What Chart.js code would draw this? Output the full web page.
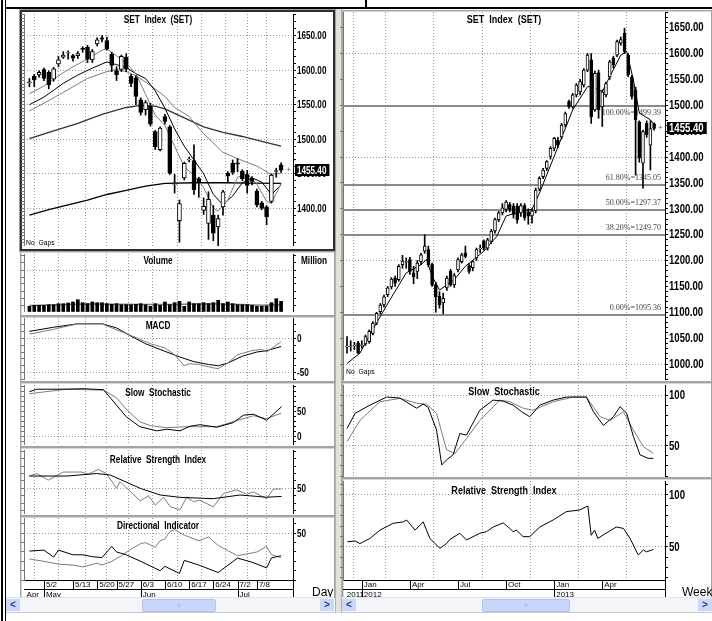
<!DOCTYPE html>
<html><head><meta charset="utf-8">
<script src="https://cdn.jsdelivr.net/npm/chart.js@4.4.0/dist/chart.umd.min.js"></script>
<style>
html,body{margin:0;padding:0;background:#fff;}
#wrap{position:relative;width:712px;height:621px;overflow:hidden;background:#fff;font-family:"Liberation Sans",Arial,sans-serif;}
canvas{position:absolute;}
.frame{position:absolute;box-sizing:border-box;border:1px solid #a4a4a4;box-shadow:inset 1px 1px 0 #d6d6d6;background:#fff;}
.sel{position:absolute;box-sizing:border-box;border:2px solid #2e2e2e;outline:1px solid #a0a0a0;background:#fff;}
.ttl{position:absolute;font:bold 11px "Liberation Sans",Arial;white-space:pre;color:#000;}
.tl{transform:translateX(-50%) scaleX(0.75);}
.tr{transform:translateX(-50%) scaleX(0.82);}
.txt{position:absolute;white-space:pre;color:#000;}
.blk{position:absolute;background:#000;}
.sb{position:absolute;height:14px;background:#f3f5fb;border-top:1px solid #dfe3ee;border-bottom:1px solid #c8c8c8;}
.sb .ar{position:absolute;top:1px;width:14px;height:12px;background:#c9d8fb;font:bold 10px Arial;color:#2b3f7a;text-align:center;line-height:12px;}
.sb .th{position:absolute;top:1px;height:11px;background:#c8d6fa;border:1px solid #b3c4ee;border-radius:2px;font:7px Arial;color:#8fa3d6;text-align:center;line-height:11px;}
</style></head>
<body><div id="wrap">
<div class="blk" style="left:1px;top:0;width:2px;height:621px"></div>
<div class="blk" style="left:5px;top:0;width:1px;height:621px"></div>
<div class="blk" style="left:5px;top:7px;width:707px;height:2px"></div>
<div class="blk" style="left:365px;top:0;width:2px;height:8px"></div>
<div style="position:absolute;left:335px;top:9px;width:7px;height:604px;background:#e4e1da;border-left:1px solid #b0b0b0;border-right:1px solid #b0b0b0;box-sizing:border-box"></div>

<div class="sel" style="left:20px;top:10px;width:315px;height:241px"></div>
<div class="frame" style="left:20px;top:251px;width:315px;height:65px"></div>
<div class="frame" style="left:20px;top:316px;width:315px;height:66px"></div>
<div class="frame" style="left:20px;top:382px;width:315px;height:65px"></div>
<div class="frame" style="left:20px;top:447px;width:315px;height:69px"></div>
<div class="frame" style="left:20px;top:516px;width:315px;height:82px"></div>
<div class="frame" style="left:342px;top:10px;width:370px;height:372px"></div>
<div class="frame" style="left:342px;top:382px;width:370px;height:96px"></div>
<div class="frame" style="left:342px;top:478px;width:370px;height:120px"></div>

<canvas id="lp" width="312" height="232" style="left:21px;top:14px"></canvas>
<canvas id="lv" width="312" height="58" style="left:21px;top:254px"></canvas>
<canvas id="lm" width="312" height="62" style="left:21px;top:318px"></canvas>
<canvas id="ls" width="312" height="60" style="left:21px;top:385px"></canvas>
<canvas id="lr" width="312" height="64" style="left:21px;top:450px"></canvas>
<canvas id="ld" width="312" height="79" style="left:21px;top:518px"></canvas>
<canvas id="rp" width="372" height="368" style="left:340px;top:12px"></canvas>
<canvas id="rs" width="372" height="92" style="left:340px;top:385px"></canvas>
<canvas id="rr" width="372" height="116" style="left:340px;top:481px"></canvas>

<div class="ttl tl" style="left:158px;top:13px">SET  Index  (SET)</div>
<div class="ttl tl" style="left:158px;top:254px">Volume</div>
<div class="ttl tl" style="left:158px;top:319px">MACD</div>
<div class="ttl tl" style="left:158px;top:386px">Slow  Stochastic</div>
<div class="ttl tl" style="left:158px;top:453px">Relative  Strength  Index</div>
<div class="ttl tl" style="left:158px;top:519px">Directional  Indicator</div>
<div class="ttl tr" style="left:504px;top:13px">SET  Index  (SET)</div>
<div class="ttl tr" style="left:504px;top:385px">Slow  Stochastic</div>
<div class="ttl tr" style="left:504px;top:484px">Relative  Strength  Index</div>
<div class="ttl" style="left:301px;top:254px;transform:scaleX(0.75);transform-origin:0 0">Million</div>
<div class="txt" style="left:26px;top:238px;font:8px 'Liberation Sans',Arial;transform:scaleX(0.85);transform-origin:0 0">No  Gaps</div>
<div class="txt" style="left:346px;top:367px;font:8px 'Liberation Sans',Arial;transform:scaleX(0.85);transform-origin:0 0">No  Gaps</div>
<div class="txt" style="left:312px;top:585px;font:12px 'Liberation Sans',Arial">Day</div>
<div class="txt" style="left:682px;top:585px;font:12px 'Liberation Sans',Arial">Week</div>

<div class="sb" style="left:6px;top:597px;width:328px"><div class="ar" style="left:0">&lt;</div><div class="th" style="left:136px;width:72px">=</div><div class="ar" style="right:0">&gt;</div></div>
<div class="sb" style="left:342px;top:597px;width:370px"><div class="ar" style="left:0">&lt;</div><div class="th" style="left:140px;width:86px">=</div><div class="ar" style="right:0">&gt;</div></div>
</div>
<script>
// ---- daily SET (left) ----
var L_OPEN  = [1582,1591,1593,1601,1597,1587,1609,1619,1624.5,1621,1621,1632,1633,1615,1638,1647,1643,1623,1599,1601,1619,1591,1589,1557,1543,1548,1511,1485,1533,1518,1434.5,1382,1444,1470,1469,1443,1397,1378,1390,1373,1402,1451,1465,1466,1454,1449,1443,1425,1408,1402,1410,1453.5,1463];
var L_HIGH  = [1588,1594,1599,1603,1599,1604,1620,1627,1628,1623,1627,1634,1636,1630,1647,1650,1648,1626,1605,1622,1624,1594,1592,1560,1556,1552,1513,1518,1536,1520,1449,1412,1467,1474,1492,1445,1415,1424,1404,1390,1426,1453,1470,1472,1456,1455,1446,1428,1410,1404,1450,1458,1466];
var L_LOW   = [1576,1576,1590,1585,1573,1584,1605,1617,1616,1613,1617,1626,1611,1611,1635,1641,1629,1598,1585,1598,1598,1576,1550,1535,1535,1519,1485,1483,1522,1449,1422,1351,1441,1467,1420,1416,1391,1355,1353,1338,1390,1438,1449,1453,1440,1422,1434,1402,1398,1376,1408,1445,1452];
var L_CLOSE = [1583,1586,1597,1588,1579,1602,1615,1622,1625.5,1617.5,1624,1630,1616,1627,1644,1645,1631,1607,1593,1620,1601.5,1581,1562,1539,1553,1522,1489,1516,1526,1451,1435.5,1407,1465,1471,1427,1438,1403,1413,1364,1385,1424,1447,1452,1464,1443,1433,1439,1405,1400,1388,1448,1454.5,1455.4];
var L_VOL   = [5.7,6.7,6.7,6.7,7.3,7.3,8.3,8.3,9,10,12.3,9.3,8.3,10,9.3,9.3,8.3,7.7,8.3,7.3,7.3,7.3,7.7,8.3,7.3,5.7,8.3,6.7,10,7.3,9.3,10.7,5.7,10,8.3,8.3,9.3,8.3,9.3,11.7,8.3,10,8.3,7.3,7.3,7.3,6.7,5.7,5.7,6,9.3,13.3,10.7];
var L_VOLMA_X = [0,6,12,18,24,30,36,42,48,52];
var L_VOLMA   = [6.5,7.2,8,7.8,7.4,7.6,8.3,7.8,6.8,7.4];

var MA5_X  = [0,3,6,9,12,15,16,18,20,22,24,26,28,30,32,34,36,38,39,41,43,45,47,49,50,52];
var MA5    = [1566,1577,1592,1605,1616,1629,1631,1621,1610,1595,1565,1535,1520,1490,1460,1448,1430,1400,1396,1412,1445,1450,1435,1410,1407,1436];
var MA10_X = [0,3,7,10,13,16,18,20,22,24,26,28,30,32,34,36,38,40,42,44,46,48,50,52];
var MA10   = [1550,1561,1581,1593,1603,1612,1608,1604,1595,1588,1570,1545,1515,1490,1470,1450,1420,1405,1418,1437,1444,1438,1420,1434];
var MA25_X = [0,4,8,12,16,18,20,22,25,28,30,33,36,40,43,47,50,52];
var MA25   = [1541,1556,1572,1588,1598,1601,1598,1592,1578,1562,1546,1533,1508,1481,1472,1461,1449,1451];
var MA75_X = [0,5,10,15,20,23,26,28,32,36,40,44,48,52];
var MA75   = [1501,1512,1523,1536,1546,1549,1548,1544,1531,1518,1510,1504,1497,1490];
var MA200_X = [0,4,8,12,16,20,24,28,34,40,46,52];
var MA200   = [1390,1398,1405,1412,1420,1426,1432,1436,1437,1437,1436.5,1436];

var MACD_X   = [0,5,10,15,17,21,25,28,30,32,33,35,38,39,41,43,46,48,49,52];
var MACD     = [6,13,21,21,15,4,-8,-14,-24,-40,-37,-38,-43,-44,-36,-24,-18,-16,-20,-5];
var MACDS_X  = [0,5,10,15,18,21,24,28,31,34,37,39,41,44,47,49,52];
var MACDS    = [10,16,21,21,15,3,-8,-19,-27,-34,-38,-40,-36,-26,-20,-18,-12];

var LSTK_X = [0,1.5,7.7,11,15.3,18,20,22.8,26.3,28.4,31.1,33.2,35.2,38.7,42.1,44.2,46.3,49,52.1];
var LSTK   = [90,95,95,96,94,63,40,20,11.7,15,11.7,21,24,19,28,43,45,33,60];
var LSTD_X = [0,7.7,15.3,18,20,22.8,25,28.4,32.5,38.7,42.1,46.3,49,52];
var LSTD   = [86,95,93,78,55,30,22,18,20,20,30,42,36,47];

var LRSI_X = [0,1.5,3.9,7,10.8,12.2,14.2,15.9,18,18.7,22.9,24.6,26,27.7,29.1,31.1,32.5,33.9,35.2,38,40.1,42.8,44.9,46.3,49,50.4,52.1];
var LRSI   = [66.6,70,61,72,72,69,75.6,70,50,59,33,40,27,38,25,21,38,32,34,25,43,48,42,45,36,49,49];
var LRSIA_X = [0,7.7,13.9,16.7,22.9,27,31.1,38,43.5,49,52.1];
var LRSIA   = [66.6,66.6,70,68,50,41,37.8,36,41,38,39];

var DI1_X = [0,3,5,6,9,11,13,15,17,18,20,23,27,28,31,32,35,39,43,46,49,50,52];
var DI1   = [31,32,24.5,32,27,27,25,24,36,30,27,20,10,14.6,7,21,16,8,23.5,19,13,23.6,26];
var DI2_X = [0,3,6,9,11,14,15,17,19,21,23,24,26,27,28,29,30,32,35,37,39,43,45,47,49,50,52];
var DI2   = [22.5,20,17,16,14,18,16,20,26,33,39,40,35,42,44,52,54,48,42,46,37,26,28,30,36,27,24];

var L_XT     = [-1,3,9,14,18,23,28,33,38,43,47];
var L_XLAB   = [['','Apr'],['5/2','May'],['5/13',''],['5/20',''],['5/27',''],['6/3','Jun'],['6/10',''],['6/17',''],['6/24',''],['7/2','Jul'],['7/8','']];

// ---- weekly SET (right) ----
var R_OPEN  = [1033,1034,1035,1041,1036,1039,1043,1059,1079,1101,1114,1134,1149,1166,1163,1192,1197,1202,1176,1179,1198,1218,1221,1192,1153,1131,1118,1147,1179,1153,1182,1198,1215,1190,1186,1205,1223,1237,1224,1237,1257,1279,1292,1299,1308,1305,1305,1292,1306,1294,1286,1296,1338,1362,1378,1401,1417,1433,1439,1462,1507,1497,1520,1526,1539,1568,1588,1491,1563,1497,1520,1555,1591,1597,1620,1639,1597,1555,1530,1468,1388,1465,1423,1464];
var R_HIGH  = [1053,1045,1042,1044,1045,1056,1066,1082,1100,1117,1133,1150,1167,1170,1192,1210,1205,1206,1189,1200,1214,1250,1228,1195,1158,1140,1137,1170,1183,1175,1205,1214,1228,1194,1200,1224,1230,1240,1243,1260,1282,1295,1310,1316,1312,1310,1310,1310,1310,1300,1300,1340,1362,1378,1393,1420,1438,1438,1465,1487,1510,1523,1542,1550,1571,1600,1600,1566,1568,1530,1545,1587,1595,1626,1632,1649,1600,1558,1535,1470,1452,1470,1470,1466];
var R_LOW   = [1021,1025,1028,1020,1030,1036,1040,1056,1076,1097,1110,1130,1145,1150,1160,1185,1185,1173,1155,1165,1192,1214,1188,1150,1100,1108,1097,1142,1150,1148,1178,1195,1205,1175,1180,1200,1215,1220,1220,1233,1253,1275,1288,1294,1294,1282,1272,1285,1278,1270,1272,1292,1335,1358,1374,1396,1412,1418,1435,1458,1494,1494,1516,1520,1535,1565,1465,1488,1475,1459,1516,1550,1572,1594,1616,1600,1555,1512,1365,1390,1340,1438,1375,1452];
var R_CLOSE = [1034,1035,1036,1022,1037,1053,1063,1079,1098,1114,1130,1147,1164,1156,1189,1199,1198,1179,1169,1195,1211,1228,1192,1153,1130,1114,1127,1166,1153,1171,1202,1211,1208,1179,1198,1221,1224,1224,1240,1257,1279,1292,1302,1313,1299,1289,1279,1306,1283,1286,1296,1336,1359,1375,1391,1417,1436,1423,1462,1484,1497,1520,1539,1546,1568,1597,1478,1562,1491,1526,1542,1584,1578,1623,1627,1604,1559,1517,1472,1398,1449,1443,1455,1455.4];
var RMA_X = [0,3.5,7,11.6,16,20,21.5,23,25,29,32,37,40.5,43,47,50,52,56.7,61,65,66.5,69,71,74,75.6,77.4,79,82,83];
var RMA   = [1001,1021,1067,1124,1176,1192,1202,1170,1143,1163,1189,1218,1247,1286,1295,1299,1330,1414,1491,1536,1536,1526,1555,1597,1604,1549,1485,1472,1462];

var FIB_LEVELS = [1499.39,1345.05,1297.37,1249.70,1095.36];
var FIB_LABELS = ['100.00%=1499.39','61.80%=1345.05','50.00%=1297.37','38.20%=1249.70','0.00%=1095.36'];

var RSTK_X = [0,2.2,6.2,10.7,14.3,18.8,20.6,21.9,24.2,25.6,26.9,28.7,30.5,32.3,35.9,39.5,42.2,44.9,47.2,49.4,52.1,55.7,59.3,64.7,66.6,69.3,72,73.8,75.6,77.4,79.2,81.4,82.8];
var RSTK   = [67,82,90,98,97,87,91,88,65.5,31,36,41,62,60.5,85,95,94,90,83.5,78.6,90,95,98,98,83.5,70,78.6,88.5,82,59,41,37.5,37.5];
var RSTD_X = [0,3.5,8.9,14.3,18.8,21.5,24.2,26.9,29.2,32.3,35.9,41.3,44,47.6,50.3,55.7,61.1,64.7,68.4,71.1,74.7,77.4,80.1,82.8];
var RSTD   = [54,75,93.4,96.7,92,91,82,46,42.4,57,75,95,93.4,87,85,93.4,98,98,78.6,75,83.5,65.5,49,42.4];
var RRSI_X = [0.1,2.2,3.5,6.2,8.9,12.5,15.2,16.1,18.4,20.6,22.4,25.1,26.9,27.8,30.5,32.3,35.9,37.7,39.5,42.2,44,44.9,45.8,47.6,49.4,52.1,55.7,59.3,62.9,65.1,66,66.9,67.8,70,72.8,74.7,76.5,78.7,80.1,81,82.8];
var RRSI   = [54.8,55.5,53,58,66,72.6,74,75.8,66,74,58,48.4,53,57,63,56.5,63,64.5,69,73,67.7,64.5,66,59.7,59.7,69,75.8,83.9,85.5,89.4,61,66,58,63,69,67.7,58,42,46.8,45,47.4];

var R_XT   = [-0.6,4,17,30,43,56,69];
var R_XLAB = [['','2011'],['Jan','2012'],['Apr',''],['Jul',''],['Oct',''],['Jan','2013'],['Apr','']];

var LAST = 1455.40;

// ---- helpers ----
var GRID = '#9a9a9a';
var GRAY = '#7c7c7c';
var SANS = '"Liberation Sans",Arial,sans-serif';
var XFONT = {family: SANS, size: 8};
var YLAB_L = {font: 'bold 11px ' + SANS, sx: 0.74};
var YLAB_R = {font: 'bold 12px ' + SANS, sx: 0.8};

function pts(xs, ys) { return xs.map(function (x, i) { return {x: x, y: ys[i]}; }); }
function steps(a, b, s) { var r = []; for (var v = a; v <= b; v += s) r.push(v); return r; }

function candles(o, h, l, c, w) {
  var wick = [], body = [], fill = [];
  o.forEach(function (v, i) {
    wick.push({x: i, y: [l[i], h[i]]});
    body.push({x: i, y: [o[i], c[i]]});
    fill.push(c[i] >= o[i] ? '#fff' : '#000');
  });
  return [
    {type: 'bar', data: body, backgroundColor: fill, borderColor: '#000', borderWidth: 1, borderSkipped: false, barThickness: w, grouped: false},
    {type: 'bar', data: wick, backgroundColor: '#000', borderWidth: 0, barThickness: 1, grouped: false}
  ];
}
function line(xs, ys, color, width) {
  return {type: 'line', data: pts(xs, ys), borderColor: color, borderWidth: width || 1, pointRadius: 0, tension: 0, fill: false};
}
function xAx(min, max, ticks, labels, showLabels) {
  return {
    type: 'linear', min: min, max: max, offset: false,
    afterBuildTicks: function (s) { s.ticks = ticks.map(function (v) { return {value: v}; }); },
    afterFit: function (s) { s.height = showLabels ? 17 : 0; },
    ticks: {display: showLabels, autoSkip: false, maxRotation: 0, minRotation: 0, align: 'start', labelOffset: 2, padding: 0, color: '#000', font: XFONT,
      callback: function (v, i) { return labels[i]; }},
    grid: {drawTicks: false, color: function (c) { return c.tick && labels[ticks.indexOf(c.tick.value)][0] === '' ? 'rgba(0,0,0,0)' : GRID; }},
    border: {display: showLabels, color: '#000', dash: [1, 2]}
  };
}
function yAx(min, max, minor, major, grid, fmt, width) {
  return {
    type: 'linear', position: 'right', min: min, max: max,
    afterBuildTicks: function (s) { s.ticks = minor.map(function (v) { return {value: v}; }); },
    afterFit: function (s) { s.width = width; },
    ticks: {display: false, autoSkip: false,
      callback: function (v) { return major.indexOf(v) >= 0 ? fmt(v) : ''; }},
    grid: {tickLength: 3, tickColor: '#000', color: function (c) { return c.tick && grid.indexOf(c.tick.value) >= 0 ? GRID : 'rgba(0,0,0,0)'; }},
    border: {display: true, color: '#000', dash: [1, 2]}
  };
}
function yLeft(min, max, minor) {
  return {
    type: 'linear', axis: 'y', position: 'left', min: min, max: max,
    afterBuildTicks: function (s) { s.ticks = minor.map(function (v) { return {value: v}; }); },
    afterFit: function (s) { s.width = 3; },
    ticks: {display: false},
    grid: {drawOnChartArea: false, tickLength: 3, color: '#777', tickColor: '#777'},
    border: {display: true, color: '#777'}
  };
}

// narrow bold labels of the right-hand value axis, drawn at the scale's own tick positions
var yLab = {
  id: 'yLab',
  afterDraw: function (chart, args, o) {
    if (!o || !o.font) return;
    var y = chart.scales.y, c = chart.ctx;
    c.save();
    c.font = o.font;
    c.fillStyle = '#000';
    c.textBaseline = 'middle';
    y.ticks.forEach(function (t) {
      if (!t.label) return;
      var py = y.getPixelForValue(t.value);
      c.save(); c.translate(y.left + 4, py + 0.5); c.scale(o.sx, 1); c.fillText(t.label, 0, 0); c.restore();
    });
    c.restore();
  }
};
var lastBox = {
  id: 'lastBox',
  afterDraw: function (chart, args, o) {
    if (!o || o.value == null) return;
    var y = chart.scales.y, c = chart.ctx, py = Math.round(y.getPixelForValue(o.value));
    var txt = o.value.toFixed(2);
    c.save();
    c.font = o.font;
    var w = c.measureText(txt).width * o.sx + 5;
    c.fillStyle = '#000';
    c.fillRect(y.left + 2, py - 6, w, 12);
    c.fillStyle = '#fff';
    c.textBaseline = 'middle';
    c.save(); c.translate(y.left + 4, py + 0.5); c.scale(o.sx, 1); c.fillText(txt, 0, 0); c.restore();
    c.fillStyle = '#555';
    c.font = '8px Arial';
    c.fillText('+', y.left - 7, py);
    c.restore();
  }
};
var fib = {
  id: 'fib',
  beforeDatasetsDraw: function (chart, args, o) {
    if (!o || !o.levels) return;
    var y = chart.scales.y, a = chart.chartArea, c = chart.ctx;
    c.save();
    c.strokeStyle = '#8a8a8a';
    c.lineWidth = 2;
    c.font = '8px "Liberation Serif","DejaVu Serif",serif';
    c.textAlign = 'right';
    o.levels.forEach(function (v, i) {
      var py = Math.round(y.getPixelForValue(v));
      c.beginPath(); c.moveTo(a.left, py); c.lineTo(a.right, py); c.stroke();
      c.fillStyle = '#444';
      c.textBaseline = i === 0 ? 'top' : 'bottom';
      c.fillText(o.labels[i], a.right - 4, i === 0 ? py + 3 : py - 3);
    });
    c.restore();
  }
};
var xDeco = {
  id: 'xDeco',
  afterDraw: function (chart, args, o) {
    if (!o || !o.labels) return;
    var xs = chart.scales.x, a = chart.chartArea, c = chart.ctx;
    c.save();
    c.strokeStyle = '#000';
    c.lineWidth = 1;
    c.beginPath();
    c.moveTo(a.left, a.bottom + 9.5); c.lineTo(a.right, a.bottom + 9.5);
    xs.ticks.forEach(function (t, i) {
      var lab = o.labels[i];
      if (!lab[0]) return;
      var px = Math.round(xs.getPixelForValue(t.value)) + 0.5;
      c.moveTo(px, a.bottom); c.lineTo(px, a.bottom + (lab[1] ? 17 : 9));
    });
    var rx = Math.round(a.right) + 0.5;
    c.moveTo(rx, a.bottom); c.lineTo(rx, a.bottom + 17);
    c.stroke();
    c.restore();
  }
};
Chart.register(yLab, lastBox, fib, xDeco);

function make(id, datasets, x, y, yl, lab, plugins) {
  var p = {legend: {display: false}, tooltip: {enabled: false}, yLab: lab};
  for (var k in (plugins || {})) p[k] = plugins[k];
  return new Chart(document.getElementById(id), {
    type: 'bar',
    data: {datasets: datasets},
    options: {responsive: false, animation: false, devicePixelRatio: 1, events: [], layout: {padding: 0},
      plugins: p, scales: {x: x, y: y, yL: yl}}
  });
}
function f2(v) { return v.toFixed(2); }
function f0(v) { return String(v); }

// ---- left pane ----
var LX0 = -1.12, LX1 = 54.46;
var lc = candles(L_OPEN, L_HIGH, L_LOW, L_CLOSE, 4);
make('lp', lc.concat([
  line(MA5_X, MA5, GRAY), line(MA10_X, MA10, '#000'), line(MA25_X, MA25, GRAY),
  line(MA75_X, MA75, '#333', 1.3), line(MA200_X, MA200, '#000', 1.3)
]), xAx(LX0, LX1, L_XT, L_XLAB, false),
  yAx(1345.4, 1681.4, steps(1350, 1680, 10), [1400, 1450, 1500, 1550, 1600, 1650], [1400, 1450, 1500, 1550, 1600, 1650], f2, 40),
  yLeft(1345.4, 1681.4, steps(1350, 1680, 5)), YLAB_L,
  {lastBox: {value: LAST, font: 'bold 11px ' + SANS, sx: 0.74}});

var volBars = {type: 'bar', data: pts(L_VOL.map(function (v, i) { return i; }), L_VOL), backgroundColor: '#000', barThickness: 3, grouped: false};
make('lv', [volBars, line(L_VOLMA_X, L_VOLMA, GRAY, 1.5)],
  xAx(LX0, LX1, L_XT, L_XLAB, false),
  yAx(0, 58, steps(0, 56, 7), [], [42], f0, 40),
  yLeft(0, 58, steps(0, 56, 7)), YLAB_L);

make('lm', [line(MACD_X, MACD, GRAY), line(MACDS_X, MACDS, '#000')],
  xAx(LX0, LX1, L_XT, L_XLAB, false),
  yAx(-60.6, 29.4, steps(-60, 20, 10), [0, -50], [0, -50], f0, 40),
  yLeft(-60.6, 29.4, steps(-60, 20, 10)), YLAB_L);

make('ls', [line(LSTK_X, LSTK, '#000'), line(LSTD_X, LSTD, GRAY)],
  xAx(LX0, LX1, L_XT, L_XLAB, false),
  yAx(-16.6, 103.4, steps(-10, 100, 10), [0, 50], [0], f0, 40),
  yLeft(-16.6, 103.4, steps(-10, 100, 10)), YLAB_L);

make('lr', [line(LRSIA_X, LRSIA, '#000'), line(LRSI_X, LRSI, GRAY)],
  xAx(LX0, LX1, L_XT, L_XLAB, false),
  yAx(15.3, 101.8, steps(20, 100, 10), [50], [50], f0, 40),
  yLeft(15.3, 101.8, steps(20, 100, 10)), YLAB_L);

make('ld', [line(DI1_X, DI1, '#000'), line(DI2_X, DI2, GRAY)],
  xAx(LX0, LX1, L_XT, L_XLAB, true),
  yAx(0, 66.4, steps(0, 60, 10), [50], [50], f0, 40),
  yLeft(0, 66.4, steps(0, 60, 10)), YLAB_L,
  {xDeco: {labels: L_XLAB}});

// ---- right pane ----
var RX0 = -1.08, RX1 = 85.95;
var rc = candles(R_OPEN, R_HIGH, R_LOW, R_CLOSE, 3);
make('rp', rc.concat([line(RMA_X, RMA, '#000')]),
  xAx(RX0, RX1, R_XT, R_XLAB, false),
  yAx(969.1, 1680.3, steps(970, 1680, 10), steps(1000, 1650, 50), [1000, 1200, 1400, 1600], f2, 47),
  yLeft(969.1, 1680.3, steps(1000, 1650, 50)), YLAB_R,
  {lastBox: {value: LAST, font: 'bold 12px ' + SANS, sx: 0.8}, fib: {levels: FIB_LEVELS, labels: FIB_LABELS}});

make('rs', [line(RSTK_X, RSTK, '#000'), line(RSTD_X, RSTD, GRAY)],
  xAx(RX0, RX1, R_XT, R_XLAB, false),
  yAx(19.1, 109.9, steps(20, 100, 10), [50, 100], [50, 100], f0, 47),
  yLeft(19.1, 109.9, steps(20, 100, 10)), YLAB_R);

make('rr', [line(RRSI_X, RRSI, '#000')],
  xAx(RX0, RX1, R_XT, R_XLAB, true),
  yAx(17.8, 113.5, steps(20, 110, 10), [50, 100], [50, 100], f0, 47),
  yLeft(17.8, 113.5, steps(20, 110, 10)), YLAB_R,
  {xDeco: {labels: R_XLAB}});
</script>
</body></html>
